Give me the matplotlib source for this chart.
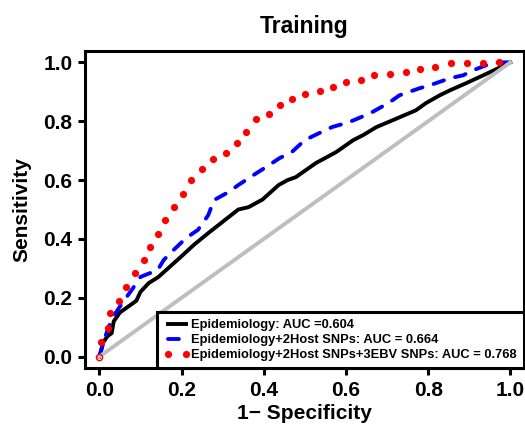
import matplotlib
matplotlib.use("Agg")
import matplotlib.pyplot as plt

plt.rcParams['font.family'] = ['Liberation Sans', 'DejaVu Sans']
plt.rcParams['font.weight'] = 'bold'

# ROC curves (1 - specificity, sensitivity)
epi_fpr = [0.0, 0.01, 0.02, 0.03, 0.035, 0.05, 0.07, 0.09, 0.10, 0.12, 0.143, 0.167,
           0.199, 0.23, 0.265, 0.297, 0.338, 0.363, 0.397, 0.436, 0.458, 0.478, 0.527,
           0.576, 0.618, 0.642, 0.674, 0.713, 0.770, 0.794, 0.828, 0.853, 0.892, 0.934,
           0.975, 1.0]
epi_tpr = [0.0, 0.05, 0.07, 0.08, 0.12, 0.15, 0.17, 0.19, 0.22, 0.25, 0.27, 0.30,
           0.34, 0.38, 0.42, 0.455, 0.50, 0.508, 0.534, 0.583, 0.600, 0.610, 0.658,
           0.695, 0.736, 0.753, 0.780, 0.803, 0.837, 0.861, 0.888, 0.905, 0.929, 0.956,
           0.983, 1.0]

host_fpr = [0.0, 0.005, 0.012, 0.022, 0.032, 0.056, 0.081, 0.100, 0.125, 0.142, 0.157,
            0.181, 0.211, 0.240, 0.265, 0.279, 0.314, 0.338, 0.375, 0.402, 0.439, 0.468,
            0.500, 0.534, 0.566, 0.608, 0.647, 0.664, 0.706, 0.730, 0.779, 0.804, 0.853,
            0.885, 0.909, 0.941, 0.971, 1.0]
host_tpr = [0.0, 0.024, 0.058, 0.098, 0.132, 0.183, 0.231, 0.271, 0.285, 0.295, 0.329,
            0.363, 0.403, 0.431, 0.481, 0.532, 0.559, 0.583, 0.617, 0.641, 0.675, 0.695,
            0.736, 0.759, 0.780, 0.797, 0.820, 0.831, 0.864, 0.888, 0.912, 0.922, 0.946,
            0.956, 0.973, 0.990, 1.0, 1.0]

ebv_fpr = [0.005, 0.020, 0.027, 0.047, 0.066, 0.088, 0.108, 0.123, 0.142, 0.159, 0.181,
           0.203, 0.223, 0.250, 0.277, 0.309, 0.336, 0.358, 0.380, 0.412, 0.439, 0.468,
           0.500, 0.537, 0.569, 0.600, 0.637, 0.669, 0.708, 0.745, 0.779, 0.816, 0.855,
           0.895, 0.934, 0.973]
ebv_tpr = [0.051, 0.098, 0.149, 0.190, 0.237, 0.285, 0.329, 0.373, 0.417, 0.464, 0.508,
           0.553, 0.600, 0.637, 0.671, 0.692, 0.725, 0.763, 0.807, 0.824, 0.854, 0.875,
           0.892, 0.902, 0.915, 0.932, 0.939, 0.956, 0.959, 0.966, 0.976, 0.983, 0.997,
           0.997, 0.997, 1.0]

labels = ['Epidemiology: AUC =0.604',
          'Epidemiology+2Host SNPs: AUC = 0.664',
          'Epidemiology+2Host SNPs+3EBV SNPs: AUC = 0.768']
ticks = [0.0, 0.2, 0.4, 0.6, 0.8, 1.0]

fig = plt.figure(figsize=(5.25, 4.25), dpi=100)
ax = fig.add_axes([0.161, 0.133, 0.837, 0.748])

lw = 2.8
ax.plot(epi_fpr, epi_tpr, color='black', lw=lw, solid_joinstyle='round',
        label=labels[0], zorder=3)
ax.plot(host_fpr, host_tpr, color='blue', lw=lw, linestyle=(0, (2.8, 3.0)),
        dash_capstyle='round', label=labels[1], zorder=3)
ax.plot(ebv_fpr, ebv_tpr, color='red', linestyle='none', marker='o', ms=5.2,
        mec='none', label=labels[2], zorder=3)
ax.plot([0, 1], [0, 1], color='#BEBEBE', lw=lw, zorder=4)
ax.plot([0], [0], marker='o', ms=4.5, mfc='none', mec='red', mew=1, zorder=5)

ax.set_xlim(-0.036, 1.033)
ax.set_ylim(-0.04, 1.04)
ax.set_xticks(ticks)
ax.set_yticks(ticks)
ax.set_xticklabels(['%.1f' % t for t in ticks])
ax.set_yticklabels(['%.1f' % t for t in ticks])
ax.tick_params(axis='both', direction='out', length=5, width=2.2, labelsize=15)
ax.tick_params(axis='x', pad=4.3)
ax.tick_params(axis='y', pad=3.6)
for s in ax.spines.values():
    s.set_linewidth(2.2)

ax.set_xlabel('1\u2212 Specificity', fontsize=15, fontweight='bold', labelpad=2.5)
ax.set_ylabel('Sensitivity', fontsize=15, fontweight='bold', labelpad=9)
ax.set_title('Training', fontsize=16.5, fontweight='bold', pad=13)

leg = ax.legend(loc='lower right', bbox_to_anchor=(1, 0), borderaxespad=0,
                prop={'weight': 'bold', 'size': 9.3}, fancybox=False,
                framealpha=1, edgecolor='black', handlelength=2.0, handletextpad=0.1,
                borderpad=0.55, labelspacing=0.24, numpoints=2)
leg.get_frame().set_linewidth(2.2)

fig.savefig('out.png', dpi=100)
